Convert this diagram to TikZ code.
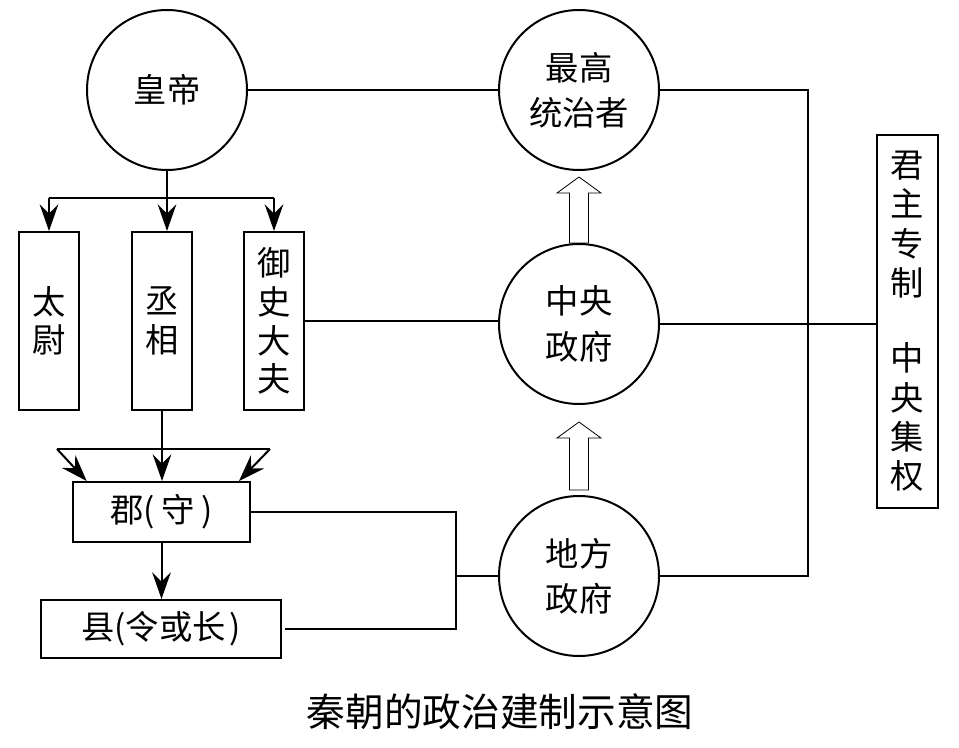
\documentclass[tikz,border=0pt]{standalone}
\usepackage{fontspec}
\setmainfont{Noto Sans CJK SC}
\usetikzlibrary{arrows.meta}
\begin{document}
\begin{tikzpicture}[x=0.75pt,y=-0.75pt,
  line width=1.5pt,
  circ/.style={circle,draw,minimum size=120pt,inner sep=0pt,font=\fontsize{25}{34}\selectfont,align=center},
  vbox/.style={draw,minimum width=45pt,minimum height=133.5pt,inner sep=0pt,font=\fontsize{25}{29}\selectfont,align=center},
  hbox/.style={draw,inner sep=0pt,font=\fontsize{25}{30}\selectfont},
  arr/.style={-{Stealth[length=20pt,width=14pt,inset=7pt]}},
  hollow/.style={draw,line width=0.6pt,fill=white},
  captext/.style={font=\fontsize{29}{32}\selectfont}
]
\useasboundingbox (0,0) rectangle (959,748);
% circles
\node[circ] (hd) at (167,90) {皇帝};
\node[circ] (zg) at (579,90) {最高\\统治者};
\node[circ] (zy) at (579,324) {中央\\政府};
\node[circ] (df) at (579,576) {地方\\政府};
% vertical boxes
\node[vbox] (tw) at (49,321) {太\\尉};
\node[vbox] (cx) at (162,321) {丞\\相};
\node[vbox] (ys) at (274,321) {御\\史\\大\\夫};
% horizontal boxes
\node[hbox,minimum width=132.75pt,minimum height=45pt] (jun) at (161.5,512) {郡(\hspace{5pt}守\hspace{5pt})};
\node[hbox,minimum width=180pt,minimum height=43.5pt] (xian) at (161,629) {县(令或长\hspace{3pt})};
% right box
\node[draw,minimum width=45.75pt,minimum height=279.75pt,inner sep=0pt,align=center,font=\fontsize{25}{29.5}\selectfont] (jz) at (907.5,321.5) {君\\主\\专\\制\\[27pt]中\\央\\集\\权};
% caption
\node[captext] (title) at (500,712) {秦朝的政治建制示意图};
% coordinates
\coordinate (br) at (167,198);
\coordinate (rx) at (808,0);
\coordinate (lx) at (456,0);
\coordinate (tl) at (57,449);
\coordinate (tr) at (270,449);
% branch from emperor
\draw (tw.north |- br) -- (ys.north |- br);
\draw[arr] (hd.south) -- (hd.south |- cx.north);
\draw[arr] (tw.north |- br) -- (tw.north);
\draw[arr] (ys.north |- br) -- (ys.north);
% to jun
\draw (tl) -- (tr);
\draw[arr] (tl) -- ([xshift=11pt]jun.north west);
\draw[arr] (tr) -- ([xshift=-9pt]jun.north east);
\draw[arr] (cx.south) -- (cx.south |- jun.north);
\draw[arr] (jun.south) -- (jun.south |- xian.north);
% horizontal connectors
\draw (hd.east) -- (zg.west);
\draw (ys.east) -- (ys.east -| zy.west);
\draw (zy.east) -- (zy.east -| jz.west);
\draw (zg.east) -- (zg.east -| rx) -- (df.east -| rx) -- (df.east);
\draw (jun.east) -- (jun.east -| lx) -- (xian.east -| lx) -- ([xshift=2pt]xian.east);
\draw (df.west) -- (df.west -| lx);
% hollow arrows
\draw[hollow] (569.5,243) -- (569.5,193) -- (557,193) -- (579,177) -- (601,193) -- (588.5,193) -- (588.5,243) -- cycle;
\draw[hollow] (569.5,490) -- (569.5,438) -- (557,438) -- (579,422) -- (601,438) -- (588.5,438) -- (588.5,490) -- cycle;
\end{tikzpicture}
\end{document}
